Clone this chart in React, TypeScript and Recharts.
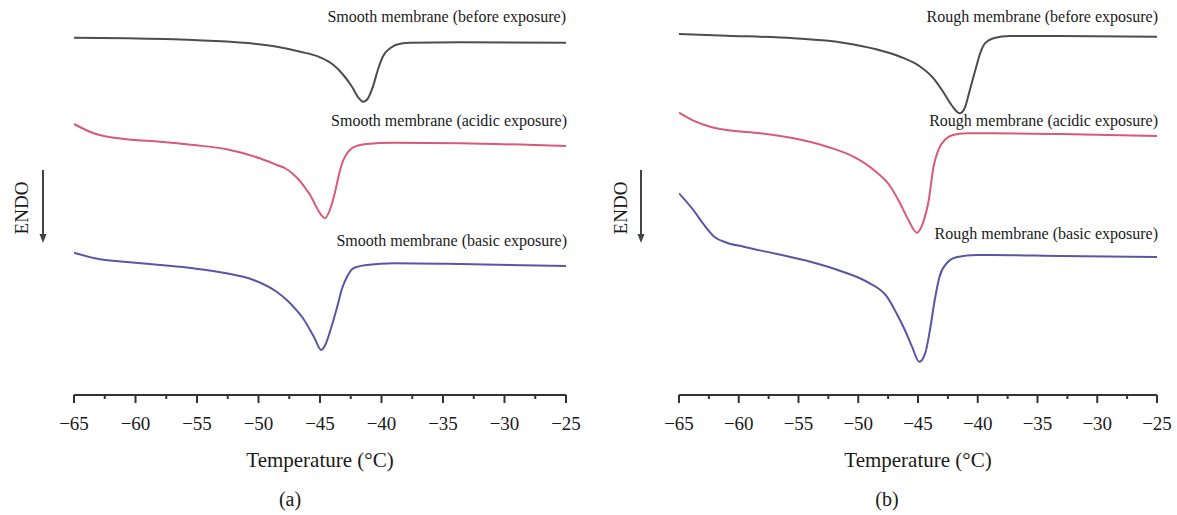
import { LineChart, Line, XAxis, YAxis, Label } from 'recharts';

const SERIF = '"Liberation Serif", "DejaVu Serif", serif';

// temperature ticks: majors every 5 °C, minors halfway
const tempTicks = [-65, -62.5, -60, -57.5, -55, -52.5, -50, -47.5, -45, -42.5, -40, -37.5, -35, -32.5, -30, -27.5, -25];

// values are the endo signal in arbitrary offset units (larger = further down / more endothermic)
const smoothBeforeT = [-65, -60.7, -55.3, -51.2, -48.5, -46.6, -45, -43.9, -43.1, -42.4, -41.9, -41.5, -41.1, -40.7, -40.3, -39.9, -39.3, -38.8, -37.7, -33.6, -25];
const smoothBeforeV = [37.7, 38.3, 40, 42.7, 46.7, 51.7, 57.3, 65, 75, 86.7, 97.3, 101.7, 98.3, 86.7, 70, 56.7, 48.3, 44.7, 42.7, 42.3, 42.7];

const smoothAcidicT = [-65, -63.4, -60.7, -58, -55.3, -52.6, -49.9, -48.5, -47.8, -47.2, -46.7, -46.2, -45.8, -45.3, -44.9, -44.6, -44.2, -43.8, -43.5, -43.2, -42.8, -42.3, -41.2, -39.1, -33.6, -25];
const smoothAcidicV = [124, 133.3, 139.3, 141.7, 145, 149.3, 158.3, 165, 168.5, 174, 180, 188, 195, 207, 215, 218.3, 210, 193.3, 176.7, 163.3, 153.3, 147.3, 144, 142.7, 143.3, 146];

const smoothBasicT = [-65, -62.9, -60.7, -58, -55.3, -52.6, -50.4, -48.5, -47.7, -47, -46.4, -45.5, -44.9, -44.5, -44.1, -43.6, -43.2, -42.8, -42.3, -41.2, -39, -33.6, -25];
const smoothBasicV = [252.7, 259.3, 262, 265, 268.3, 273.3, 280, 292, 300, 309, 318, 336.7, 350, 343, 328, 306.7, 288.3, 276.7, 268.3, 265, 263.3, 264, 266];

const roughBeforeT = [-65, -61, -55.4, -51.3, -48.5, -46.5, -44.8, -43.7, -42.9, -42.2, -41.5, -41.1, -40.7, -40.2, -39.8, -39.4, -38.7, -37.3, -33.1, -25];
const roughBeforeV = [34, 35.7, 38.3, 42.7, 49.3, 56.7, 66.7, 78.3, 91.7, 105, 113.3, 108.3, 91.7, 70, 53.3, 43.3, 38.3, 36, 36, 36.7];

const roughAcidicT = [-65, -63.8, -62.4, -61, -58.2, -55.4, -52.6, -50.4, -48.7, -47.3, -46.5, -45.8, -45.1, -44.6, -44.1, -43.7, -43.3, -42.7, -42.1, -40.9, -38.7, -33.1, -25];
const roughAcidicV = [112.7, 120.7, 126.7, 130, 133.3, 138.3, 146.7, 156.7, 170, 186.7, 203.3, 220, 232.7, 223.3, 200, 166.7, 150, 139.3, 135, 133.3, 133.3, 134, 136];

const roughBasicT = [-65, -63.8, -63, -62, -61, -59.6, -56.8, -54, -51.3, -49.3, -47.6, -46.8, -46.1, -45.5, -44.9, -44.4, -44, -43.6, -43.2, -42.6, -41.8, -40.1, -38.7, -33.1, -25];
const roughBasicV = [193.3, 210, 223.3, 237.3, 242.7, 246.7, 254, 261.7, 271.7, 281.7, 296.7, 313.3, 330, 346.7, 361.7, 353.3, 330, 300, 276.7, 263.3, 257.3, 255, 255, 256, 257];

const COLORS = { before: '#4d4d4d', acidic: '#d85a76', basic: '#5a56a4' };

const toPoints = (ts: number[], vs: number[]) => ts.map((t, i) => ({ t, v: vs[i] }));

function TempTick(props: any) {
  const { x, y, payload } = props;
  const v = payload.value as number;
  const major = v % 5 === 0;
  return (
    <g>
      <line x1={x} x2={x} y1={y} y2={y + (major ? 8 : 4)} stroke="#333" strokeWidth={2} />
      {major && (
        <text x={x} y={y + 35} textAnchor="middle" fontFamily={SERIF} fontSize={19} fill="#1a1a1a">
          {`\u2212${Math.abs(v)}`}
        </text>
      )}
    </g>
  );
}

function Panel({
  left,
  width,
  marginLeft,
  marginRight,
  curves,
}: {
  left: number;
  width: number;
  marginLeft: number;
  marginRight: number;
  curves: { key: string; data: { t: number; v: number }[]; color: string }[];
}) {
  return (
    <div style={{ position: 'absolute', left, top: 0 }}>
      <LineChart width={width} height={515} margin={{ top: 0, right: marginRight, left: marginLeft, bottom: 0 }}>
        <XAxis
          type="number"
          dataKey="t"
          domain={[-65, -25]}
          ticks={tempTicks}
          interval={0}
          height={120}
          tickSize={0}
          tickMargin={0}
          tickLine={false}
          tick={<TempTick />}
          axisLine={{ stroke: '#333', strokeWidth: 2 }}
          allowDataOverflow
        >
          <Label
            value="Temperature (°C)"
            position="insideBottom"
            offset={48}
            style={{ fontFamily: SERIF, fontSize: 21, fill: '#1a1a1a' }}
          />
        </XAxis>
        <YAxis type="number" dataKey="v" domain={[0, 395]} reversed hide />
        {curves.map((c) => (
          <Line
            key={c.key}
            data={c.data}
            dataKey="v"
            type="monotone"
            stroke={c.color}
            strokeWidth={2}
            dot={false}
            isAnimationActive={false}
          />
        ))}
      </LineChart>
    </div>
  );
}

function Endo({ textX, arrowX }: { textX: number; arrowX: number }) {
  return (
    <g>
      <text
        x={textX}
        y={208}
        transform={`rotate(-90 ${textX} 208)`}
        textAnchor="middle"
        dominantBaseline="central"
        fontFamily={SERIF}
        fontSize={19}
        fill="#1a1a1a"
      >
        ENDO
      </text>
      <line x1={arrowX} x2={arrowX} y1={170} y2={236} stroke="#444" strokeWidth={2} />
      <polygon points={`${arrowX - 3.5},234 ${arrowX + 3.5},234 ${arrowX},243`} fill="#444" />
    </g>
  );
}

export default function App() {
  const left = [
    { key: 'before', data: toPoints(smoothBeforeT, smoothBeforeV), color: COLORS.before },
    { key: 'acidic', data: toPoints(smoothAcidicT, smoothAcidicV), color: COLORS.acidic },
    { key: 'basic', data: toPoints(smoothBasicT, smoothBasicV), color: COLORS.basic },
  ];
  const right = [
    { key: 'before', data: toPoints(roughBeforeT, roughBeforeV), color: COLORS.before },
    { key: 'acidic', data: toPoints(roughAcidicT, roughAcidicV), color: COLORS.acidic },
    { key: 'basic', data: toPoints(roughBasicT, roughBasicV), color: COLORS.basic },
  ];

  const lbl = { fontFamily: SERIF, fontSize: 16, fill: '#1a1a1a', textAnchor: 'end' as const };

  return (
    <div style={{ position: 'absolute', left: 0, top: 0, width: 1177, height: 515, background: '#fff', overflow: 'hidden' }}>
      <Panel left={0} width={600} marginLeft={74} marginRight={34} curves={left} />
      <Panel left={600} width={577} marginLeft={79} marginRight={20} curves={right} />
      <svg width={1177} height={515} style={{ position: 'absolute', left: 0, top: 0, pointerEvents: 'none' }}>
        <text x={566} y={22} {...lbl}>Smooth membrane (before exposure)</text>
        <text x={567} y={126} {...lbl}>Smooth membrane (acidic exposure)</text>
        <text x={567} y={246} {...lbl}>Smooth membrane (basic exposure)</text>
        <text x={1158} y={22} {...lbl}>Rough membrane (before exposure)</text>
        <text x={1158} y={126} {...lbl}>Rough membrane (acidic exposure)</text>
        <text x={1158} y={239} {...lbl}>Rough membrane (basic exposure)</text>
        <Endo textX={21} arrowX={43} />
        <Endo textX={620} arrowX={641} />
        <text x={290} y={506} textAnchor="middle" fontFamily={SERIF} fontSize={20} fill="#1a1a1a">(a)</text>
        <text x={887} y={506} textAnchor="middle" fontFamily={SERIF} fontSize={20} fill="#1a1a1a">(b)</text>
      </svg>
    </div>
  );
}
